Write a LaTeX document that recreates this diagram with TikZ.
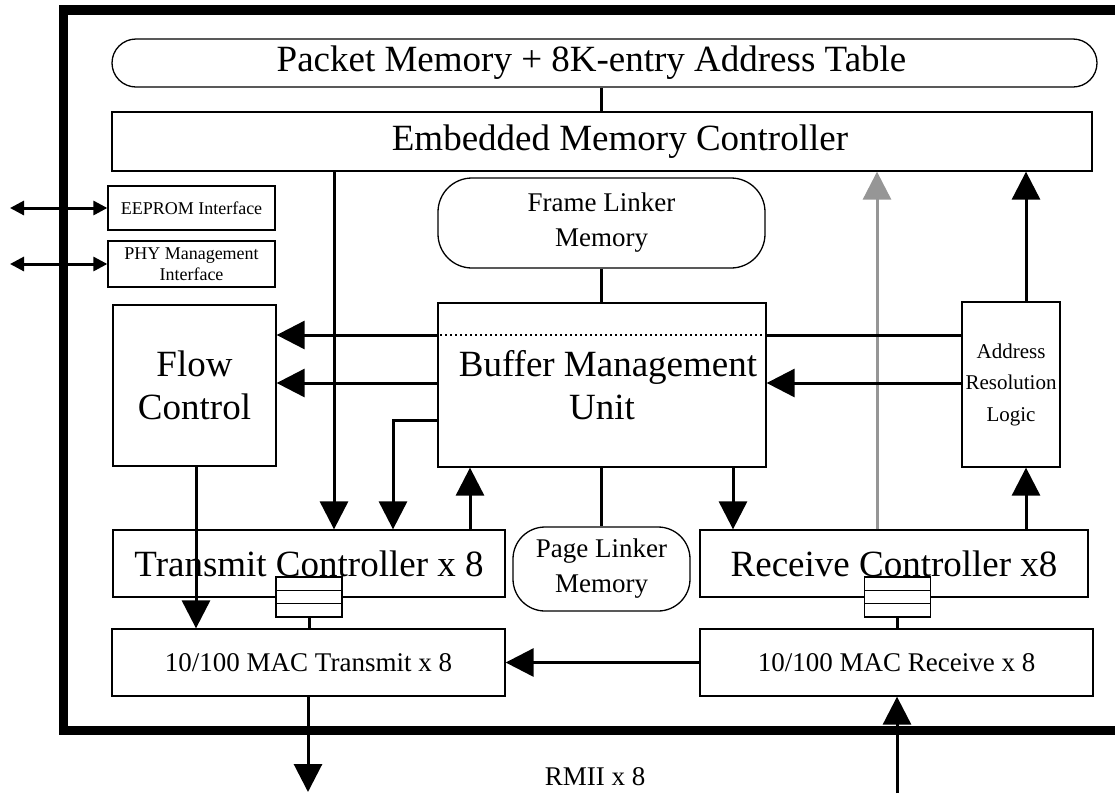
\documentclass[tikz,border=0pt]{standalone}
\usepackage{fontspec}
\setmainfont{Liberation Serif}
\usetikzlibrary{arrows.meta,calc}
\definecolor{arrgray}{RGB}{150,150,150}

\begin{document}
\begin{tikzpicture}[x=1pt,y=-1pt,
  box/.style={draw, line width=1.3pt, inner sep=0pt, align=center},
  rbox/.style={box, rounded corners=#1},
  bigtxt/.style={font=\fontsize{37}{43}\selectfont},
  midtxt/.style={font=\fontsize{27}{35}\selectfont},
  smalltxt/.style={font=\fontsize{21}{31.5}\selectfont},
  tinytxt/.style={font=\fontsize{18}{21}\selectfont},
  wire/.style={line width=3pt},
  arr/.style={wire, -{Triangle[length=28pt,width=28pt]}},
  darr/.style={wire, {Triangle[length=14pt,width=14pt]}-{Triangle[length=14pt,width=14pt]}},
  queue/.style={box, fill=white, minimum width=66pt, minimum height=40pt,
    path picture={\foreach \k in {1,2}
      \draw[line width=1.3pt] ($(path picture bounding box.north west)!\k/3!(path picture bounding box.south west)$)
        -- ($(path picture bounding box.north east)!\k/3!(path picture bounding box.south east)$);}}]
\useasboundingbox (0,0) rectangle (1115,793);
\draw[line width=9.5pt] (1140,10) -- (63.5,10) -- (63.5,730.5) -- (1140,730.5);

\node[rbox=24pt, bigtxt, minimum width=985pt, minimum height=48pt] (pm) at (604.5,63) {Packet Memory + 8K-entry Address Table\hspace*{26pt}};
\node[box, bigtxt, minimum width=980pt, minimum height=59pt] (emc) at (602,141.5) {\hspace*{36pt}Embedded Memory Controller};
\node[box, tinytxt, minimum width=167pt, minimum height=44pt] (eeprom) at (191.5,208) {EEPROM Interface};
\node[box, tinytxt, minimum width=167pt, minimum height=46pt] (phy) at (191.5,264) {PHY Management\\Interface};
\node[rbox=34pt, midtxt, minimum width=327pt, minimum height=90pt] (flm) at (601.5,223) {Frame Linker\\Memory};
\node[box, bigtxt, minimum width=163pt, minimum height=161pt] (fc) at (194.5,385.5) {Flow\\Control};
\node[box, bigtxt, minimum width=328pt, minimum height=164pt] (bmu) at (602,385) {\hspace*{12pt}Buffer Management\\Unit};
\node[box, smalltxt, minimum width=98pt, minimum height=165pt] (arl) at (1011,384.5) {Address\\Resolution\\Logic};
\node[box, bigtxt, minimum width=392pt, minimum height=67pt] (tc) at (309,563.5) {Transmit Controller x 8};
\node[box, bigtxt, minimum width=388pt, minimum height=67pt] (rc) at (894,563.5) {Receive Controller x8};
\node[rbox=32pt, midtxt, minimum width=177pt, minimum height=84pt] (plm) at (601.5,569) {Page Linker\\Memory};
\node[box, midtxt, minimum width=393pt, minimum height=67pt] (mt) at (308.5,662.5) {10/100 MAC Transmit x 8};
\node[box, midtxt, minimum width=393pt, minimum height=67pt] (mr) at (896.5,662.5) {\raisebox{-8pt}{10/100 MAC Receive x 8}};
\node[queue] (txq) at (309,597) {};
\node[queue] (rxq) at (897.5,597) {};
\node[midtxt] (rmii) at (595,777) {RMII x 8};

\coordinate (ee) at (10,208);
\coordinate (py) at (10,264);
\coordinate (txout) at (308,792);
\coordinate (rxin) at (897,793);

\path[draw,wire] (pm.south -| flm.north) -- (emc.north -| flm.north);
\path[draw,wire] (flm.south) -- (bmu.north -| flm.south);
\path[draw,wire] (bmu.south -| plm.north) -- (plm.north);
\path[draw,darr] (ee) -- (eeprom.west);
\path[draw,darr] (py) -- (phy.west);
\path[draw,arr] (emc.south -| 334,0) -- (tc.north -| 334,0);
\path[draw,arr,draw=arrgray,fill=arrgray] (rc.north -| 877,0) -- (emc.south -| 877,0);
\path[draw,arr] (arl.north -| 1026,0) -- (emc.south -| 1026,0);
\path[draw,arr] (rc.north -| 1026,0) -- (arl.south -| 1026,0);
\path[draw,wire] (arl.west |- 0,335) -- (bmu.east |- 0,335);
\path[draw,line width=1.5pt,dash pattern=on 1.5pt off 3.5pt] (bmu.east |- 0,335) -- (bmu.west |- 0,335);
\path[draw,arr] (bmu.west |- 0,335) -- (fc.east |- 0,335);
\path[draw,arr] (arl.west |- 0,383) -- (bmu.east |- 0,383);
\path[draw,arr] (bmu.west |- 0,383) -- (fc.east |- 0,383);
\path[draw,arr] (bmu.west |- 0,420) -| (tc.north -| 393,0);
\path[draw,arr] (tc.north -| 470,0) -- (bmu.south -| 470,0);
\path[draw,arr] (bmu.south -| 733,0) -- (rc.north -| 733,0);
\path[draw,arr] (fc.south -| 196,0) -- (mt.north -| 196,0);
\path[draw,wire] (txq.south) -- (mt.north -| txq.south);
\path[draw,wire] (rxq.south) -- (mr.north -| rxq.south);
\path[draw,arr] (mr.west) -- (mt.east);
\path[draw,arr] (mt.south -| txout) -- (txout);
\path[draw,arr] (rxin) -- (mr.south -| rxin);
\end{tikzpicture}
\end{document}
